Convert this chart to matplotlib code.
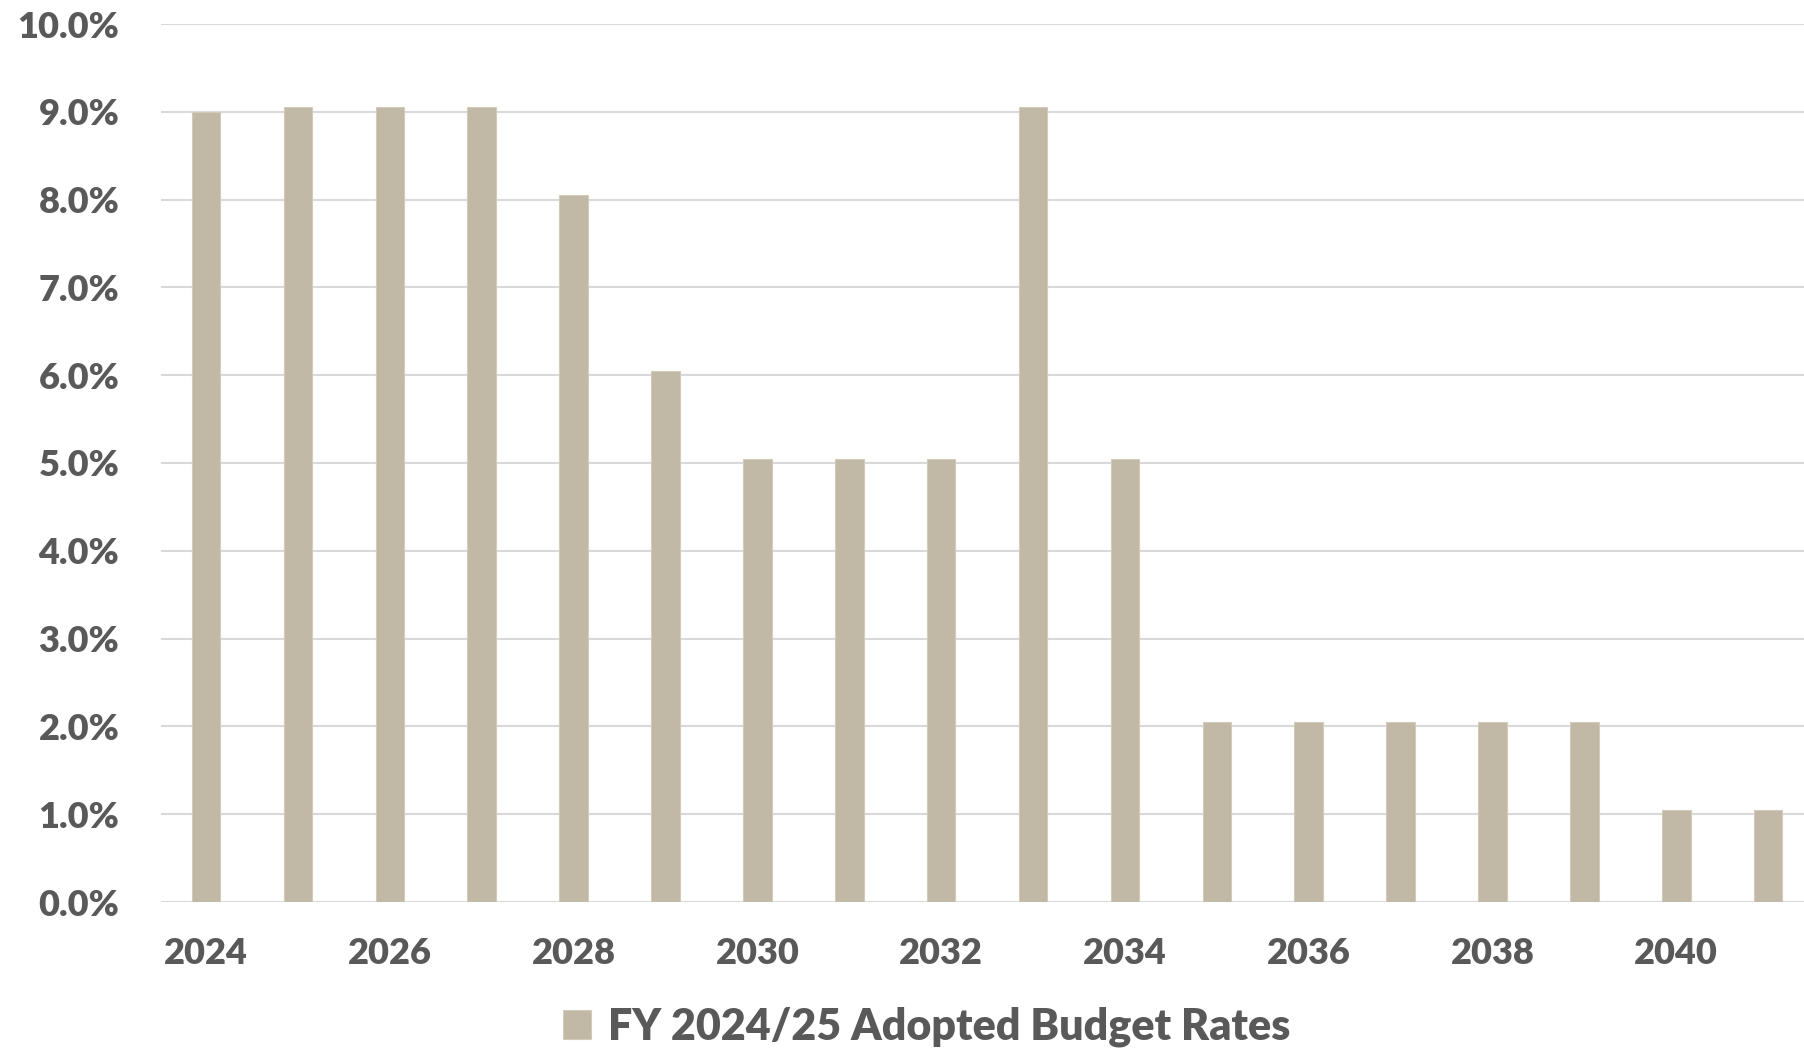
import matplotlib.pyplot as plt
from matplotlib.ticker import FuncFormatter, MultipleLocator

years = list(range(2024, 2042))
rates = [9.0, 9.05, 9.05, 9.05, 8.05, 6.05, 5.05, 5.05, 5.05, 9.05,
         5.05, 2.05, 2.05, 2.05, 2.05, 2.05, 1.05, 1.05]
series_name = 'FY 2024/25 Adopted Budget Rates'

plt.rcParams['font.family'] = ['Lato', 'DejaVu Sans']
text_col = '#595959'
bar_col = '#c1b8a5'

fig = plt.figure(figsize=(18.04, 10.48), dpi=100)
ax = fig.add_axes([161 / 1804, 1 - 902 / 1048, (1804 - 161) / 1804, (902 - 24) / 1048])

ax.bar(years, rates, width=0.31, color=bar_col, edgecolor='#d2cbbb', linewidth=0.8,
       label=series_name, zorder=3)

ax.set_ylim(0, 10)
ax.set_xlim(2024 - 0.49, 2041 + 0.39)
ax.yaxis.set_major_locator(MultipleLocator(1))
ax.yaxis.set_major_formatter(FuncFormatter(lambda v, p: f'{v:.1f}%'))
ax.set_xticks(years[::2])
ax.grid(axis='y', color='#d9d9d9', linewidth=1.5, zorder=0)
for s in ax.spines.values():
    s.set_visible(False)
ax.tick_params(axis='both', length=0, labelsize=26, labelcolor=text_col)
ax.tick_params(axis='y', pad=30)
ax.tick_params(axis='x', pad=25)
for lab in ax.get_xticklabels() + ax.get_yticklabels():
    lab.set_fontweight('heavy')

leg = fig.legend(loc='center', bbox_to_anchor=(927 / 1804, 1 - 1027 / 1048), frameon=False,
                 prop={'size': 31, 'weight': 'heavy'}, handlelength=0.65, handleheight=0.65,
                 handletextpad=0.4)
for t in leg.get_texts():
    t.set_color(text_col)

fig.savefig('out.png', dpi=100)
